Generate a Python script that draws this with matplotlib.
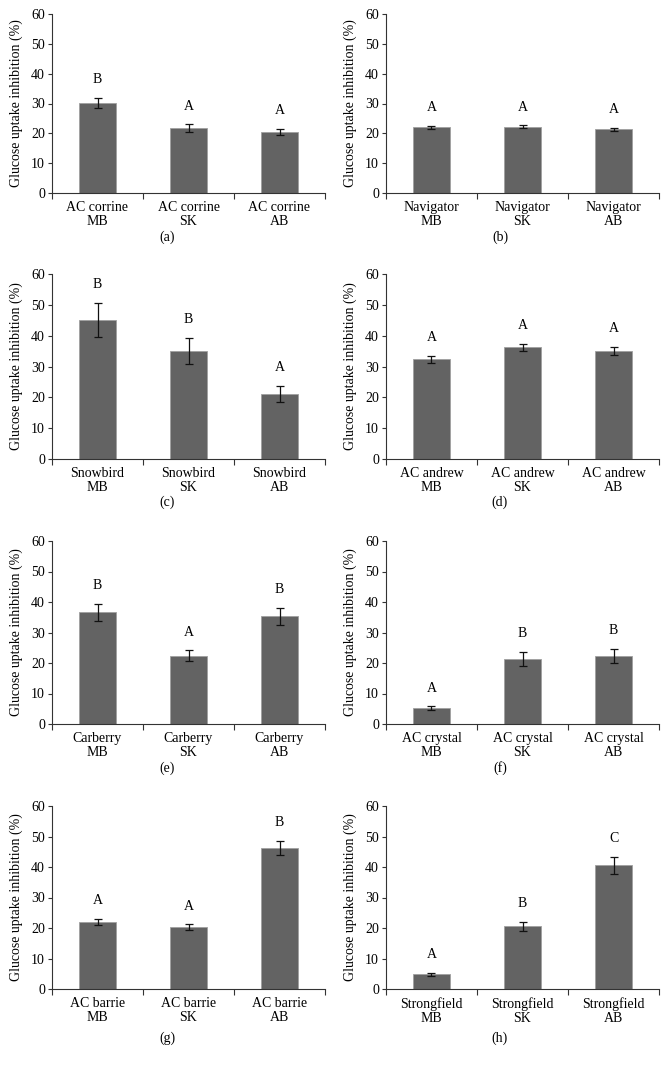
import numpy as np
import matplotlib
matplotlib.use('Agg')
import matplotlib.pyplot as plt

plt.rcParams['font.family'] = ['Liberation Serif', 'DejaVu Serif']

# cultivar name per panel, sites are shared
cultivars = ['AC corrine', 'Navigator', 'Snowbird', 'AC andrew',
             'Carberry', 'AC crystal', 'AC barrie', 'Strongfield']
sites = ['MB', 'SK', 'AB']
panel_tags = ['(a)', '(b)', '(c)', '(d)', '(e)', '(f)', '(g)', '(h)']

means = [
    [30.2, 21.8, 20.5],
    [22.1, 22.2, 21.4],
    [45.1, 34.9, 21.2],
    [32.3, 36.2, 35.0],
    [36.6, 22.3, 35.3],
    [5.2, 21.3, 22.3],
    [22.0, 20.2, 46.2],
    [4.8, 20.5, 40.5],
]
errors = [
    [1.7, 1.2, 1.1],
    [0.5, 0.5, 0.5],
    [5.5, 4.2, 2.6],
    [1.1, 1.2, 1.2],
    [2.9, 1.8, 2.8],
    [0.6, 2.3, 2.4],
    [1.1, 1.0, 2.4],
    [0.4, 1.4, 2.9],
]
letters = [
    ['B', 'A', 'A'],
    ['A', 'A', 'A'],
    ['B', 'B', 'A'],
    ['A', 'A', 'A'],
    ['B', 'A', 'B'],
    ['A', 'B', 'B'],
    ['A', 'A', 'B'],
    ['A', 'B', 'C'],
]

W, H = 668, 1073
fig = plt.figure(figsize=(W / 100, H / 100), dpi=100)

col_left = [52, 386]
col_width = 273
row_top = [14, 274, 541, 806]
row_bot = [193, 459, 724, 989]
tag_y = [237, 502, 768, 1038]
tag_x = [167, 500]

bar_color = '#636363'
fs = 10
x = np.arange(3)

for i in range(8):
    r, c = divmod(i, 2)
    ax = fig.add_axes([col_left[c] / W, 1 - row_bot[r] / H,
                       col_width / W, (row_bot[r] - row_top[r]) / H])
    ax.bar(x, means[i], width=0.4, color=bar_color, edgecolor='#a0a0a0',
           linewidth=0.6, zorder=2)
    ax.errorbar(x, means[i], yerr=errors[i], fmt='none', ecolor='#111111',
                elinewidth=0.9, capsize=2.6, capthick=0.9, zorder=3)
    for xi, m, e, lt in zip(x, means[i], errors[i], letters[i]):
        ax.text(xi, m + e + 6, lt, ha='center', va='center', fontsize=fs)

    ax.set_xlim(-0.5, 2.5)
    ax.set_ylim(0, 60)
    ax.set_yticks(np.arange(0, 61, 10))
    ax.set_xticks([-0.5, 0.5, 1.5, 2.5])
    ax.set_xticklabels([])
    ax.set_xticks(x, minor=True)
    ax.set_xticklabels([cultivars[i] + '\n' + s for s in sites], minor=True,
                       fontsize=fs, linespacing=1.1)
    ax.tick_params(axis='x', which='minor', length=0, pad=6)
    ax.tick_params(axis='x', which='major', length=4, direction='out',
                   width=0.8, color='#333333')
    ax.tick_params(axis='y', length=3, direction='out', width=0.8,
                   labelsize=fs, pad=2, color='#333333')
    for side in ['top', 'right']:
        ax.spines[side].set_visible(False)
    for side in ['left', 'bottom']:
        ax.spines[side].set_linewidth(0.8)
        ax.spines[side].set_color('#333333')
    ax.set_ylabel('Glucose uptake inhibition (%)', fontsize=fs)
    ax.yaxis.set_label_coords(-0.108, 0.5)

    fig.text(tag_x[c] / W, 1 - tag_y[r] / H, panel_tags[i], ha='center',
             va='center', fontsize=fs)

fig.savefig('out.png', dpi=100, facecolor='white')
